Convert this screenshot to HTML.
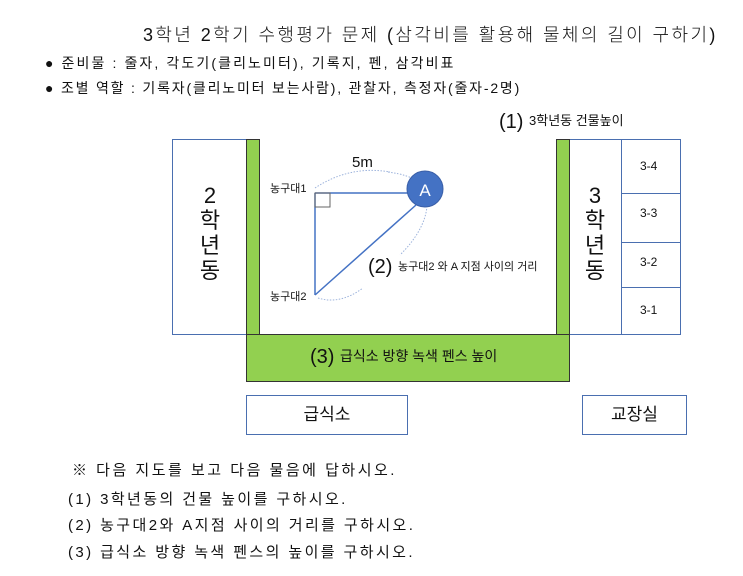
<!DOCTYPE html>
<html><head><meta charset="utf-8"><style>
body{margin:0;width:743px;height:576px;background:#fff;position:relative;overflow:hidden;font-family:"Liberation Sans","Noto Sans CJK KR",sans-serif;color:#111}
.a{position:absolute;white-space:nowrap}
.box{position:absolute;box-sizing:border-box;border:1px solid #4a6fb0;background:#fff}
.g{position:absolute;box-sizing:border-box;background:#92d050;border:1px solid #333}
.v{position:absolute;font-size:22px;line-height:25px;text-align:center;width:30px}
</style></head><body>
<div class="a" style="left:143px;top:21px;font-size:18px;letter-spacing:2.4px;font-weight:300">3학년 2학기 수행평가 문제 (삼각비를 활용해 물체의 길이 구하기)</div>
<div class="a" style="left:45px;top:53px;font-size:14px;letter-spacing:2.1px">● 준비물 : 줄자, 각도기(클리노미터), 기록지, 펜, 삼각비표</div>
<div class="a" style="left:45px;top:78px;font-size:14px;letter-spacing:1.8px">● 조별 역할 : 기록자(클리노미터 보는사람), 관찰자, 측정자(줄자-2명)</div>

<div class="a" style="left:499px;top:110px;font-size:20px">(1) <span style="font-size:13px;vertical-align:3px">3학년동 건물높이</span></div>

<div class="box" style="left:172px;top:139px;width:76px;height:196px"></div>
<div class="v" style="left:195px;top:183px">2<br>학<br>년<br>동</div>
<div class="g" style="left:246px;top:139px;width:14px;height:196px"></div>

<div class="box" style="left:567px;top:139px;width:114px;height:196px"></div>
<div class="box" style="left:621px;top:139px;width:60px;height:55px"></div>
<div class="box" style="left:621px;top:193px;width:60px;height:50px"></div>
<div class="box" style="left:621px;top:242px;width:60px;height:46px"></div>
<div class="box" style="left:621px;top:287px;width:60px;height:48px"></div>
<div class="a" style="left:640px;top:159px;font-size:12px">3-4</div>
<div class="a" style="left:640px;top:206px;font-size:12px">3-3</div>
<div class="a" style="left:640px;top:255px;font-size:12px">3-2</div>
<div class="a" style="left:640px;top:303px;font-size:12px">3-1</div>
<div class="v" style="left:580px;top:183px">3<br>학<br>년<br>동</div>
<div class="g" style="left:556px;top:139px;width:14px;height:196px"></div>

<div class="g" style="left:246px;top:334px;width:324px;height:48px"></div>
<div class="a" style="left:310px;top:346px;font-size:20px">(3) <span style="font-size:14px;vertical-align:2px">급식소 방향 녹색 펜스 높이</span></div>

<svg class="a" style="left:0;top:0" width="743" height="576">
<path d="M315 188 Q350 165 390 172" fill="none" stroke="#9db3dc" stroke-dasharray="1.5 1.5"/>
<path d="M388 172 Q410 175 418 182" fill="none" stroke="#9db3dc" stroke-dasharray="1.5 1.5"/>
<path d="M427 206 Q425 230 400 255" fill="none" stroke="#9db3dc" stroke-dasharray="1.5 1.5"/>
<path d="M318 298 Q340 305 363 288" fill="none" stroke="#9db3dc" stroke-dasharray="1.5 1.5"/>
<line x1="315" y1="193" x2="410" y2="193" stroke="#4472c4" stroke-width="1.5"/>
<line x1="315" y1="193" x2="315" y2="295" stroke="#4472c4" stroke-width="1.5"/>
<line x1="315" y1="295" x2="416" y2="205" stroke="#4472c4" stroke-width="1.5"/>
<rect x="315" y="193" width="15" height="14" fill="none" stroke="#666"/>
<circle cx="425" cy="189" r="18" fill="#4472c4" stroke="#3a5fa8"/>
<text x="425" y="196" font-size="17" fill="#fff" text-anchor="middle" font-family="Liberation Sans">A</text>
</svg>
<div class="a" style="left:352px;top:154px;font-size:15px">5m</div>
<div class="a" style="left:270px;top:180px;font-size:11px">농구대1</div>
<div class="a" style="left:270px;top:288px;font-size:11px">농구대2</div>
<div class="a" style="left:368px;top:256px;font-size:20px">(2) <span style="font-size:11px;vertical-align:3px">농구대2 와 A 지점 사이의 거리</span></div>

<div class="box" style="left:246px;top:395px;width:162px;height:40px;font-size:17px;text-align:center;line-height:38px">급식소</div>
<div class="box" style="left:582px;top:395px;width:105px;height:40px;font-size:17px;text-align:center;line-height:38px">교장실</div>

<div class="a" style="left:72px;top:459px;font-size:15px;letter-spacing:2.5px">※ 다음 지도를 보고 다음 물음에 답하시오.</div>
<div class="a" style="left:68px;top:488px;font-size:15px;letter-spacing:2.4px">(1) 3학년동의 건물 높이를 구하시오.</div>
<div class="a" style="left:68px;top:514px;font-size:15px;letter-spacing:2.4px">(2) 농구대2와 A지점 사이의 거리를 구하시오.</div>
<div class="a" style="left:68px;top:541px;font-size:15px;letter-spacing:2.4px">(3) 급식소 방향 녹색 펜스의 높이를 구하시오.</div>
</body></html>
